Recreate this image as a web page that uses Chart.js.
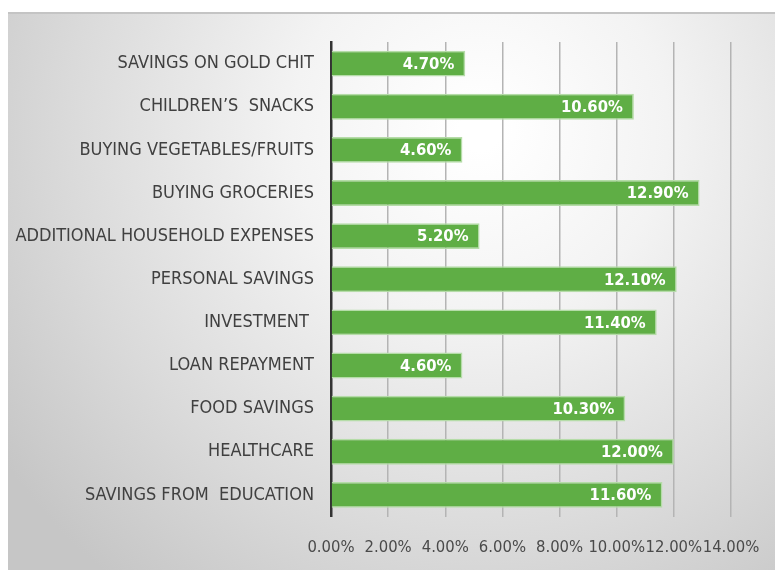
<!DOCTYPE html>
<html>
<head>
<meta charset="utf-8">
<script src="https://cdn.jsdelivr.net/npm/chart.js@4"></script>
<style>
  html, body { margin: 0; padding: 0; background: #ffffff; }
  #wrap { width: 775px; height: 570px; position: relative; }
</style>
</head>
<body>
<div id="wrap"><canvas id="c" width="775" height="570"></canvas></div>
<script>
// Share of spending / saving by purpose
const categories = [
  'SAVINGS ON GOLD CHIT',
  'CHILDREN\u2019S  SNACKS',
  'BUYING VEGETABLES/FRUITS',
  'BUYING GROCERIES',
  'ADDITIONAL HOUSEHOLD EXPENSES',
  'PERSONAL SAVINGS',
  'INVESTMENT ',
  'LOAN REPAYMENT',
  'FOOD SAVINGS',
  'HEALTHCARE',
  'SAVINGS FROM  EDUCATION'
];
const shares = [4.7, 10.6, 4.6, 12.9, 5.2, 12.1, 11.4, 4.6, 10.3, 12.0, 11.6];
const axisMin = 0;
const axisMax = 14;
const axisStep = 2;

const NARROW = '"DejaVu Sans Condensed", "Liberation Sans", sans-serif';

// Panel background: soft radial grey gradient with a thin top edge
const panelBackground = {
  id: 'panelBackground',
  beforeDraw(chart) {
    const ctx = chart.ctx;
    ctx.save();
    ctx.fillStyle = '#ffffff';
    ctx.fillRect(0, 0, chart.width, chart.height);
    const x0 = 8, y0 = 12, w = chart.width - x0, h = chart.height - y0;
    const g = ctx.createRadialGradient(480, 130, 20, 480, 130, 580);
    g.addColorStop(0, '#ffffff');
    g.addColorStop(0.3, '#f3f3f3');
    g.addColorStop(0.7, '#dadada');
    g.addColorStop(1, '#c6c6c6');
    ctx.fillStyle = g;
    ctx.fillRect(x0, y0, w, h);
    ctx.fillStyle = '#c4c4c4';
    ctx.fillRect(x0, y0, w, 2);
    ctx.restore();
  }
};

// Value labels drawn inside the end of each bar
const barValueLabels = {
  id: 'barValueLabels',
  afterDatasetsDraw(chart) {
    const ctx = chart.ctx;
    const meta = chart.getDatasetMeta(0);
    const data = chart.data.datasets[0].data;
    ctx.save();
    ctx.font = 'bold 16.5px ' + NARROW;
    ctx.fillStyle = '#ffffff';
    ctx.textAlign = 'right';
    ctx.textBaseline = 'middle';
    meta.data.forEach((bar, i) => {
      ctx.fillText(data[i].toFixed(2) + '%', bar.x - 11, bar.y + 1);
    });
    ctx.restore();
  }
};

new Chart(document.getElementById('c'), {
  type: 'bar',
  data: {
    labels: categories,
    datasets: [{
      data: shares,
      backgroundColor: '#5fae45',
      borderColor: '#b5dca8',
      borderWidth: 1.5,
      borderSkipped: 'start',
      barPercentage: 0.6,
      categoryPercentage: 1.0
    }]
  },
  options: {
    indexAxis: 'y',
    responsive: false,
    animation: false,
    layout: { padding: { top: 42, right: 44, left: 0, bottom: 0 } },
    plugins: {
      legend: { display: false },
      tooltip: { enabled: false }
    },
    scales: {
      x: {
        min: axisMin,
        max: axisMax,
        ticks: {
          stepSize: axisStep,
          padding: 21,
          maxRotation: 0,
          minRotation: 0,
          autoSkip: false,
          color: '#4a4a4a',
          font: { family: NARROW, size: 16.5 },
          callback: v => Number(v).toFixed(2) + '%'
        },
        grid: {
          color: '#b4b4b4',
          lineWidth: 1.5,
          drawTicks: false
        },
        border: { display: false },
        afterFit(scale) {
          scale.height = 53.5;
          scale.paddingLeft = 0;
          scale.paddingRight = 0;
        }
      },
      y: {
        ticks: {
          padding: 17,
          color: '#404040',
          font: { family: NARROW, size: 18 }
        },
        grid: { display: false, drawTicks: false },
        border: { display: true, color: '#333333', width: 2.5 },
        afterFit(scale) { scale.width = 331; }
      }
    }
  },
  plugins: [panelBackground, barValueLabels]
});
</script>
</body>
</html>
